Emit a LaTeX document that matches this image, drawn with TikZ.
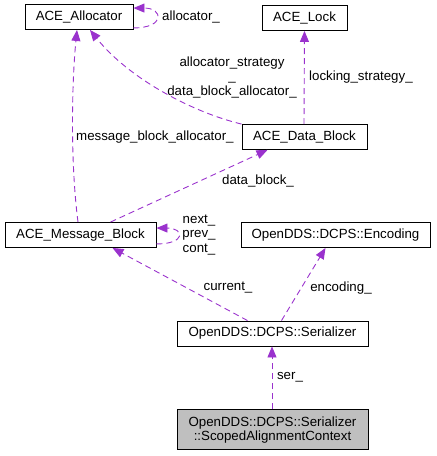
\documentclass[tikz,border=0pt]{standalone}
\usepackage{xcolor}
\usepackage{fontspec}
\setmainfont{Liberation Sans}
\usepackage{tikz}
\usetikzlibrary{shapes,arrows,positioning,calc,arrows.meta}
\definecolor{edgepurple}{HTML}{9A32CD}
\definecolor{ctxgray}{HTML}{BFBFBF}

\begin{document}
\begin{tikzpicture}[x=1pt, y=-1pt,
    font=\fontsize{13.3}{14.5}\selectfont,
    classbox/.style={draw, rectangle, line width=0.9pt, fill=white, minimum height=25pt, inner sep=0pt, align=center},
    dep/.style={draw=edgepurple, line width=0.9pt, dash pattern=on 6pt off 4pt, -{Triangle[length=11pt, width=9pt, fill=edgepurple]}},
    lbl/.style={inner sep=0pt, align=center}]
    \useasboundingbox (0,0) rectangle (437,456);
    \node[classbox, minimum width=108pt] (alloc) at (79,17) {ACE\_Allocator};
    \node[classbox, minimum width=85pt] (lock) at (304.5,18) {ACE\_Lock};
    \node[classbox, minimum width=125pt] (datablock) at (304.5,137) {ACE\_Data\_Block};
    \node[classbox, minimum width=151pt] (msgblock) at (80.5,235) {ACE\_Message\_Block};
    \node[classbox, minimum width=189pt] (encoding) at (335.5,235) {OpenDDS::DCPS::Encoding};
    \node[classbox, minimum width=191pt] (serializer) at (272.5,333.5) {OpenDDS::DCPS::Serializer};
    \node[classbox, minimum width=191pt, minimum height=40pt, fill=ctxgray, below=63pt of serializer] (ctx) {OpenDDS::DCPS::Serializer\\::ScopedAlignmentContext};
    % self references
    \draw[dep] ([yshift=2pt]alloc.south east) .. controls +(32,0) and +(30,0) .. ([yshift=-4pt]alloc.north east);
    \node[lbl, anchor=west] (alloclbl) at (162,17) {allocator\_};
    \draw[dep] ([yshift=4pt]msgblock.south east) .. controls +(30,0) and +(28,0) .. ([yshift=-6pt]msgblock.north east);
    \node[lbl] (msglbl) at (199,235) {next\_\\prev\_\\cont\_};
    % uses
    \draw[dep] (datablock.north west) .. controls (195,113) and (130,80) .. ([xshift=11pt]alloc.south);
    \node[lbl] (stratlbl) at (232,77) {allocator\_strategy\\\_\\data\_block\_allocator\_};
    \draw[dep] ([xshift=-0.5pt]datablock.north) -- (lock.south);
    \node[lbl, anchor=west] (locklbl) at (309,77) {locking\_strategy\_};
    \draw[dep] ([xshift=-2.5pt]msgblock.north) .. controls (70,160) and (72,80) .. ([xshift=-2pt]alloc.south);
    \node[lbl, anchor=west] (mbalbl) at (76,137) {message\_block\_allocator\_};
    \draw[dep] ([xshift=30pt]msgblock.north) -- ([xshift=-37pt]datablock.south);
    \node[lbl] (dblbl) at (258,181) {data\_block\_};
    \draw[dep] ([xshift=-25pt]serializer.north) -- ([xshift=32pt]msgblock.south);
    \node[lbl] (curlbl) at (228,288) {current\_};
    \draw[dep] ([xshift=9pt]serializer.north) -- ([xshift=-10pt]encoding.south);
    \node[lbl] (enclbl) at (341,288) {encoding\_};
    \draw[dep] ([xshift=-0.5pt]ctx.north) -- ([xshift=-0.5pt]serializer.south);
    \node[lbl] (serlbl) at (290,377) {ser\_};
\end{tikzpicture}
\end{document}
